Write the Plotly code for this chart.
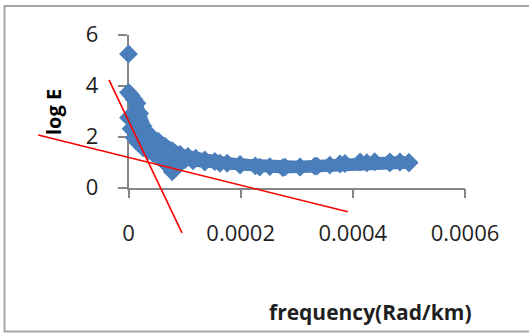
import plotly.graph_objects as go

# ---- data: log energy spectrum vs. angular frequency ----
freq_upper = [0, 0.0000045, 0.00001, 0.000015, 0.00002, 0.000026, 0.000033, 0.000042,
              0.000053, 0.000065, 0.000078, 0.000092, 0.000106, 0.00012, 0.000136,
              0.000154, 0.000176, 0.000199, 0.000226, 0.000252, 0.000279, 0.000306,
              0.000332, 0.000359, 0.000386, 0.000413, 0.000439, 0.000466, 0.000484, 0.0005]
logE_upper = [3.73, 3.62, 3.45, 3.30, 2.90, 2.40, 2.15, 1.98,
              1.82, 1.62, 1.44, 1.30, 1.22, 1.15, 1.08,
              1.02, 0.95, 0.90, 0.85, 0.82, 0.80, 0.81,
              0.84, 0.88, 0.94, 1.00, 1.01, 1.00, 1.00, 0.98]

freq_lower = [0, 0.0000045, 0.00001, 0.000017, 0.000026, 0.000035, 0.000044, 0.000053,
              0.000062, 0.000069, 0.000078, 0.000085, 0.000092, 0.000101, 0.000115,
              0.000136, 0.000163, 0.000199, 0.000234, 0.000275, 0.000306, 0.000336,
              0.000377, 0.000425, 0.000466, 0.0005]
logE_lower = [2.74, 2.30, 1.95, 1.75, 1.56, 1.44, 1.33, 1.20,
              1.05, 0.88, 0.62, 0.80, 0.98, 1.10, 1.05,
              1.00, 0.95, 0.88, 0.80, 0.78, 0.80, 0.84,
              0.92, 0.97, 0.97, 0.97]

freq_peak = [0]
logE_peak = [5.24]

# hand-drawn fit lines (endpoints in data units)
fit_a_freq = [-0.000161, 0.000391]
fit_a_logE = [2.06, -0.95]
fit_b_freq = [-0.0000348, 0.0000954]
fit_b_logE = [4.22, -1.78]

x_ticks = [0, 0.0002, 0.0004, 0.0006]
x_tick_text = ["0", "0.0002", "0.0004", "0.0006"]
y_ticks = [0, 2, 4, 6]
y_tick_text = ["0", "2", "4", "6"]

# ---- layout geometry ----
W, H = 529, 333
X_RANGE = [0, 0.0006]
Y_RANGE = [0, 6]
X_DOM = [128.5 / W, 465 / W]
Y_DOM = [(H - 187.5) / H, (H - 34.5) / H]


def extend(rng, dom):
    """Range of a full-paper axis that lines up with an axis on a sub-domain."""
    span = (rng[1] - rng[0]) / (dom[1] - dom[0])
    return [rng[0] - dom[0] * span, rng[1] + (1 - dom[1]) * span]


BLUE = "#4a7ebb"
GRAY = "#868686"
TXT = "#1f1f1f"
MSIZE = 14.5
BAND_W = 12  # stroke width that fills the gaps between neighbouring markers

fig = go.Figure()

# band body between the lower and upper envelopes
fig.add_trace(go.Scatter(x=freq_lower, y=logE_lower, mode="lines",
                         line=dict(color=BLUE, width=BAND_W), showlegend=False,
                         hoverinfo="skip"))
fig.add_trace(go.Scatter(x=freq_upper, y=logE_upper, mode="lines",
                         line=dict(color=BLUE, width=BAND_W), fill="tonexty",
                         fillcolor=BLUE, showlegend=False, hoverinfo="skip"))
# diamond markers along the scatter
for fx, fy in [(freq_lower, logE_lower), (freq_upper, logE_upper), (freq_peak, logE_peak)]:
    fig.add_trace(go.Scatter(x=fx, y=fy, mode="markers", cliponaxis=False,
                             marker=dict(symbol="diamond", size=MSIZE, color=BLUE,
                                         line=dict(width=0)),
                             showlegend=False))

# red fit lines on a full-paper overlay axis pair so they may run past the axes
for fx, fy in [(fit_a_freq, fit_a_logE), (fit_b_freq, fit_b_logE)]:
    fig.add_trace(go.Scatter(x=fx, y=fy, mode="lines", xaxis="x2", yaxis="y2",
                             line=dict(color="#ff0000", width=1.6),
                             showlegend=False))

tick_font = dict(family="Open Sans", size=22, color=TXT)

fig.update_layout(
    width=W, height=H,
    margin=dict(l=0, r=0, t=0, b=0, pad=0, autoexpand=False),
    paper_bgcolor="white", plot_bgcolor="rgba(0,0,0,0)",
    xaxis=dict(domain=X_DOM, range=X_RANGE, anchor="y", automargin=False,
               showgrid=False, zeroline=False, showline=True,
               linecolor=GRAY, linewidth=1.5, ticks="outside", ticklen=9,
               tickcolor=GRAY, tickwidth=1.5, tickvals=x_ticks,
               ticktext=x_tick_text, tickfont=tick_font,
               ticklabelstandoff=16, layer="below traces"),
    yaxis=dict(domain=Y_DOM, range=Y_RANGE, anchor="x", automargin=False,
               showgrid=False, zeroline=False, showline=True,
               linecolor=GRAY, linewidth=1.5, ticks="outside", ticklen=9,
               tickcolor=GRAY, tickwidth=1.5, tickvals=y_ticks,
               ticktext=y_tick_text, tickfont=tick_font,
               ticklabelstandoff=15, layer="below traces"),
    xaxis2=dict(domain=[0, 1], range=extend(X_RANGE, X_DOM), anchor="y2",
                visible=False, automargin=False),
    yaxis2=dict(domain=[0, 1], range=extend(Y_RANGE, Y_DOM), anchor="x2",
                visible=False, automargin=False),
    shapes=[dict(type="rect", xref="paper", yref="paper",
                 x0=4.5 / W, x1=1.02, y0=(H - 331.5) / H, y1=(H - 6) / H,
                 line=dict(color="#a6a6a6", width=2), fillcolor="rgba(0,0,0,0)",
                 layer="below")],
    annotations=[
        dict(text="<b>log E</b>", xref="paper", yref="paper",
             x=54 / W, y=(H - 112) / H, xanchor="center", yanchor="middle",
             textangle=-90, showarrow=False,
             font=dict(family="Open Sans", size=20, color="#000000")),
        dict(text="<b>frequency(Rad/km)</b>", xref="paper", yref="paper",
             x=370 / W, y=(H - 311.5) / H, xanchor="center", yanchor="middle",
             showarrow=False,
             font=dict(family="Open Sans", size=21, color=TXT)),
    ],
)

fig.write_html("out.html")
